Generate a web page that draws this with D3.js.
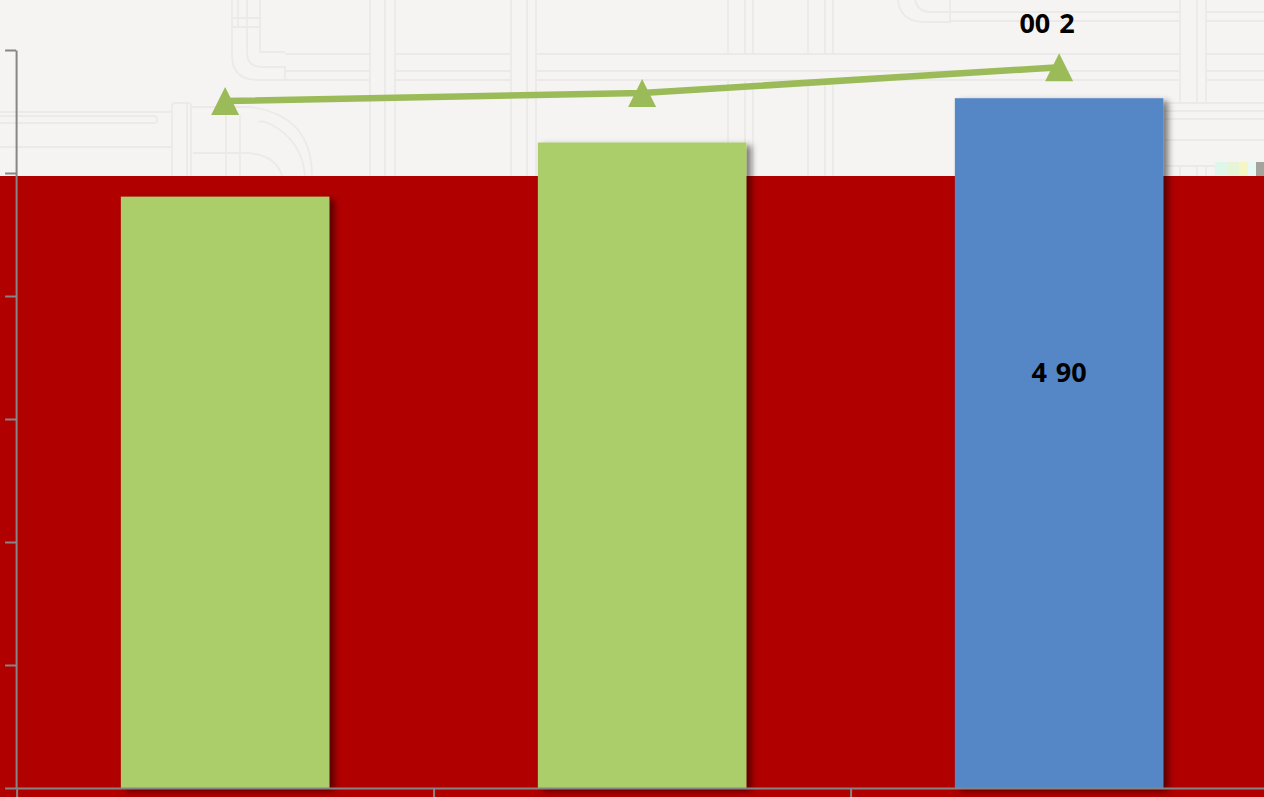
<!DOCTYPE html>
<html>
<head>
<meta charset="utf-8">
<script src="https://cdn.jsdelivr.net/npm/d3@7"></script>
<style>
  html, body { margin: 0; padding: 0; overflow: hidden; background: #f5f4f2; }
  svg { display: block; }
  .axis path, .axis line { stroke: #868686; stroke-width: 2px; }
  .pipes path { fill: none; stroke: #ebeae8; stroke-width: 1.8px; }
  .value-label { font-family: "Open Sans", sans-serif; font-weight: 700; font-size: 27px; word-spacing: 2px; fill: #000; }
</style>
</head>
<body>
<div id="chart"></div>
<script>
// values, in units of the (unlabelled) axis ticks
const categories = ["A", "B", "C"];
const barValues = [4.808, 5.248, 5.608];
const lineValues = [5.585, 5.65, 5.86];
const barColors = ["#acce6a", "#acce6a", "#5486c6"];
const yTicks = [0, 1, 2, 3, 4, 5, 6];
const barLabels = ["", "", "4 90"];
const lineLabels = ["", "", "00 2"];

// faint pipework drawn in the slide background
const pipes = [
  "M232 0V27M238 0V27M247 0V27M260 0V27M232 18H260M232 27H260",
  "M232 27V55Q232 80 258 80H285M247 27V52Q247 67 262 67H285V80M260 27V52H285",
  "M285 54H369M285 71H369M285 80H369M370 0V176M385 0V176M395 0V176",
  "M0 112H172M0 116H154Q157 116 157 120Q157 123 154 123H0M0 147H172",
  "M172 176V106Q172 103 176 103H188Q191 103 191 106V176M187 103V176",
  "M191 107H250Q312 115 312 176M258 122Q262 120 270 124Q302 140 305 176M193 153H240Q275 152 282 176",
  "M226 115V176M240 115V176",
  "M395 54H511M395 71H511M395 80H511M511 0V176M527 0V176M536 0V176",
  "M536 54H1180M536 71H1180M536 80H1180",
  "M728 0V54M745 0V54M753 0V54M808 0V54M825 0V54M833 0V54",
  "M728 81V176M745 81V176M753 81V176M808 81V176M825 81V176M833 81V176",
  "M898 0Q900 22 925 22H950V0M915 0Q918 12 930 12H950M950 12H1180M950 21H1180",
  "M1180 0V102M1197 0V102M1206 0V102M1206 12H1264M1206 21H1264M1206 54H1264M1206 71H1264M1206 80H1264",
  "M1165 103H1264M1165 111H1264M1165 119H1264M1165 140H1264M1165 166H1264M1180 166V176M1197 166V176M1206 166V176"
];

// small colour-noise smudge at the right edge of the band
const smudge = [
  { x: 1215, y: 162, w: 12, h: 14, fill: "#dff7ea" },
  { x: 1227, y: 162, w: 12, h: 14, fill: "#e6f5d8" },
  { x: 1239, y: 162, w: 9, h: 14, fill: "#f4f6c4" },
  { x: 1248, y: 162, w: 8, h: 14, fill: "#e8f8f4" },
  { x: 1256, y: 162, w: 8, h: 14, fill: "#a3a49c" }
];

const width = 1264,
  height = 797,
  bandTop = 176;

const svg = d3
  .select("#chart")
  .append("svg")
  .attr("width", width)
  .attr("height", height);

const defs = svg.append("defs");
defs
  .append("filter")
  .attr("id", "bar-shadow")
  .attr("x", "-10%")
  .attr("y", "-5%")
  .attr("width", "125%")
  .attr("height", "115%")
  .append("feDropShadow")
  .attr("dx", 5)
  .attr("dy", 3)
  .attr("stdDeviation", 3)
  .attr("flood-color", "#000")
  .attr("flood-opacity", 0.5);

// background: pale paper with pipes, red band below
svg
  .append("g")
  .attr("class", "pipes")
  .selectAll("path")
  .data(pipes)
  .join("path")
  .attr("d", (d) => d);

svg
  .append("g")
  .selectAll("rect")
  .data(smudge)
  .join("rect")
  .attr("x", (d) => d.x)
  .attr("y", (d) => d.y)
  .attr("width", (d) => d.w)
  .attr("height", (d) => d.h)
  .attr("fill", (d) => d.fill);

svg
  .append("rect")
  .attr("x", 0)
  .attr("y", bandTop)
  .attr("width", width)
  .attr("height", height - bandTop)
  .attr("fill", "#b00000");

const xScale = d3
  .scaleBand()
  .domain(categories)
  .range([16.6, 1267.6])
  .paddingInner(0.5)
  .paddingOuter(0.25);

const yScale = d3.scaleLinear().domain([0, 6]).range([788, 50]);

const xCenter = (d) => xScale(d) + xScale.bandwidth() / 2;

// bars
svg
  .append("g")
  .selectAll("rect")
  .data(categories)
  .join("rect")
  .attr("x", (d) => xScale(d))
  .attr("y", (d, i) => yScale(barValues[i]))
  .attr("width", xScale.bandwidth())
  .attr("height", (d, i) => yScale(0) - yScale(barValues[i]))
  .attr("fill", (d, i) => barColors[i])
  .attr("filter", "url(#bar-shadow)");

// axes
svg
  .append("g")
  .attr("class", "axis")
  .attr("transform", `translate(${xScale.range()[0] - 0.5},0)`)
  .call(d3.axisLeft(yScale).tickValues(yTicks).tickSize(11).tickSizeOuter(0).tickFormat(""));

const xBoundaries = d3.range(categories.length + 1).map((i) => xScale.range()[0] + i * xScale.step());
const xAxisScale = d3.scaleLinear().domain([xBoundaries[0], xBoundaries[3]]).range([xBoundaries[0], xBoundaries[3]]);
svg
  .append("g")
  .attr("class", "axis")
  .attr("transform", `translate(0,${yScale(0)})`)
  .call(d3.axisBottom(xAxisScale).tickValues(xBoundaries).tickSize(10).tickSizeOuter(0).tickFormat(""));

// line with triangle markers
const line = d3
  .line()
  .x((d) => xCenter(d))
  .y((d, i) => yScale(lineValues[i]));

svg
  .append("path")
  .datum(categories)
  .attr("d", line)
  .attr("fill", "none")
  .attr("stroke", "#9bbb59")
  .attr("stroke-width", 6.5);

svg
  .append("g")
  .selectAll("path")
  .data(categories)
  .join("path")
  .attr("transform", (d, i) => `translate(${xCenter(d)},${yScale(lineValues[i])})`)
  .attr("d", "M0,-14L14,14L-14,14Z")
  .attr("fill", "#9bbb59");

// value labels
svg
  .append("g")
  .selectAll("text")
  .data(categories)
  .join("text")
  .attr("class", "value-label")
  .attr("x", xCenter)
  .attr("y", (d, i) => yScale(barValues[i]) + 284)
  .attr("text-anchor", "middle")
  .text((d, i) => barLabels[i]);

svg
  .append("g")
  .selectAll("text")
  .data(categories)
  .join("text")
  .attr("class", "value-label")
  .attr("x", (d) => xCenter(d) - 12)
  .attr("y", (d, i) => yScale(lineValues[i]) - 34)
  .attr("text-anchor", "middle")
  .text((d, i) => lineLabels[i]);
</script>
</body>
</html>
